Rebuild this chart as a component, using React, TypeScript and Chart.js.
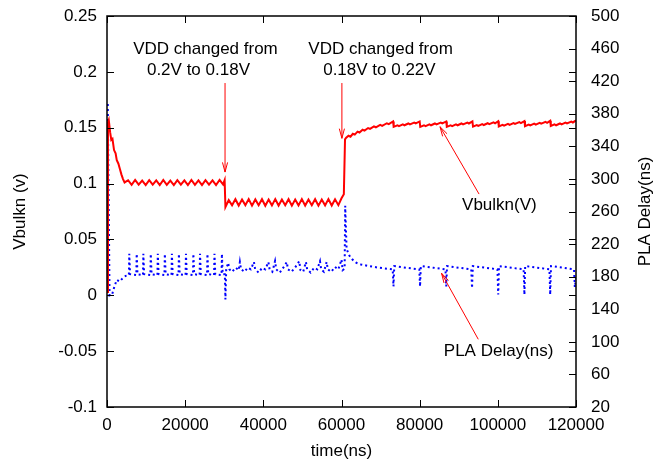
import React, { useEffect, useRef } from "react";
import { Chart, registerables } from "chart.js";

Chart.register(...registerables);

// Vbulkn (V) vs time (ns) — left axis
const vbulkn: [number, number][] = [
  [0, 0.003], [250, 0.155], [450, 0.157], [800, 0.146], [1100, 0.139], [1400, 0.14], [1800, 0.13], [2200, 0.127],
  [2500, 0.121], [2900, 0.118], [3300, 0.113], [3700, 0.108], [4100, 0.104], [4500, 0.101],
  [5400, 0.103], [6300, 0.0988], [7200, 0.1032], [8100, 0.099], [9000, 0.1027], [9900, 0.0986], [10800, 0.1031],
  [11700, 0.0991], [12600, 0.1029], [13500, 0.0987], [14400, 0.1033], [15300, 0.0989], [16200, 0.1027], [17100, 0.0986],
  [18000, 0.1031], [18900, 0.099], [19800, 0.1029], [20700, 0.0987], [21600, 0.1032], [22500, 0.0989], [23400, 0.1028],
  [24300, 0.0986], [25200, 0.1031], [26100, 0.0991], [27000, 0.1029], [27900, 0.0987], [28800, 0.1033], [29700, 0.0992],
  [30100, 0.103], [30300, 0.079],
  [31150, 0.0852], [32000, 0.0806], [32850, 0.086], [33700, 0.0803], [34550, 0.0857], [35400, 0.0807], [36250, 0.0861],
  [37100, 0.0802], [37950, 0.0858], [38800, 0.0806], [39650, 0.086], [40500, 0.0801], [41350, 0.0857], [42200, 0.0805],
  [43050, 0.0861], [43900, 0.0803], [44750, 0.0858], [45600, 0.0806], [46450, 0.086], [47300, 0.0802], [48150, 0.0857],
  [49000, 0.0805], [49850, 0.0861], [50700, 0.0803], [51550, 0.0858], [52400, 0.0806], [53250, 0.086], [54100, 0.0802],
  [54950, 0.0857], [55800, 0.0805], [56650, 0.0861], [57500, 0.0803], [58350, 0.0859], [59200, 0.0807], [60000, 0.0868],
  [60600, 0.0905], [60900, 0.1395],
  [61200, 0.141], [61800, 0.1428], [62300, 0.142], [62900, 0.1446], [63400, 0.1438], [64100, 0.1465], [64600, 0.1457],
  [65400, 0.1482], [65900, 0.1474], [66800, 0.1497], [67300, 0.1489], [68300, 0.1512], [68800, 0.1504], [69900, 0.1525],
  [70400, 0.1517], [71600, 0.154], [72100, 0.1532], [73200, 0.1556],
  [73350, 0.1508], [74300, 0.1522], [74700, 0.1514], [75700, 0.153], [76100, 0.1522], [77100, 0.1538], [77500, 0.153],
  [78600, 0.1546], [79000, 0.1538], [80000, 0.1556],
  [80150, 0.1508], [81100, 0.1522], [81500, 0.1514], [82500, 0.153], [82900, 0.1522], [83900, 0.1538], [84300, 0.153],
  [85400, 0.1546], [85800, 0.1538], [86800, 0.1556],
  [86950, 0.1508], [87900, 0.1522], [88300, 0.1514], [89300, 0.153], [89700, 0.1522], [90700, 0.1538], [91100, 0.153],
  [92200, 0.1546], [92600, 0.1538], [93500, 0.1557],
  [93650, 0.151], [94600, 0.1524], [95000, 0.1516], [96000, 0.1532], [96400, 0.1524], [97400, 0.154], [97800, 0.1532],
  [98900, 0.1548], [99300, 0.154], [100100, 0.1558],
  [100250, 0.1512], [101200, 0.1526], [101600, 0.1518], [102600, 0.1534], [103000, 0.1526], [104000, 0.1542],
  [104400, 0.1534], [105500, 0.155], [105900, 0.1542], [106800, 0.156],
  [106950, 0.1514], [107900, 0.1528], [108300, 0.152], [109300, 0.1536], [109700, 0.1528], [110700, 0.1544],
  [111100, 0.1536], [112200, 0.1552], [112600, 0.1544], [113400, 0.1562],
  [113550, 0.1516], [114500, 0.153], [114900, 0.1522], [115900, 0.1538], [116300, 0.153], [117300, 0.1546],
  [117700, 0.1538], [118800, 0.1555], [119200, 0.1547], [120000, 0.1565],
];

// PLA Delay (ns) vs time (ns) — right axis
const plaDelay: [number, number][] = [
  [200, 392], [650, 157], [1300, 158], [1900, 168], [2500, 176], [3200, 174], [4000, 178], [4800, 181],
  [5600, 182], [5700, 208], [5900, 183], [7500, 182], [7600, 208], [7800, 183], [9200, 182], [9300, 208], [9500, 183],
  [11100, 182], [11200, 208], [11400, 183], [12900, 182], [13000, 208], [13200, 183], [14700, 182], [14800, 208],
  [15000, 183], [16500, 182], [16600, 208], [16800, 183], [18300, 182], [18400, 208], [18600, 183], [20100, 182],
  [20200, 208], [20400, 183], [22000, 182], [22100, 208], [22300, 183], [23700, 182], [23800, 208], [24000, 183],
  [25600, 182], [25700, 208], [25900, 183], [27400, 182], [27500, 208], [27700, 183], [29300, 182], [29400, 208],
  [29600, 183],
  [30150, 183], [30300, 152], [30500, 189], [31000, 197], [31300, 189], [32000, 186], [32900, 191], [33700, 188],
  [34000, 198], [34300, 189], [35200, 186], [36000, 191], [36800, 189], [37600, 198], [37900, 189], [38800, 185],
  [39700, 191], [40500, 189], [41300, 198], [41600, 189], [42300, 186], [43000, 199], [43300, 189], [44200, 185],
  [45100, 191], [46000, 198], [46300, 189], [47200, 186], [48100, 191], [49200, 199], [49500, 188], [50200, 186],
  [50900, 198], [51200, 189], [52100, 185], [53000, 191], [53800, 189], [54500, 199], [54800, 189], [55500, 186],
  [56200, 198], [56500, 189], [57400, 186], [58300, 192], [59200, 189], [60000, 201], [60300, 188], [60800, 190],
  [60950, 267], [61300, 214], [62000, 206], [62800, 201], [63800, 197], [65000, 195], [67000, 193], [69500, 191],
  [73100, 189], [73300, 168], [73500, 193], [76500, 191], [79900, 189], [80100, 168], [80300, 193], [83500, 191],
  [86600, 189], [86800, 168], [87000, 193], [90000, 191], [93200, 189], [93400, 166], [93600, 193], [96800, 191],
  [99900, 189], [100100, 158], [100300, 193], [103500, 191], [106600, 189], [106800, 158], [107000, 193],
  [110100, 191], [113200, 189], [113400, 158], [113600, 193], [116700, 191], [119500, 189], [119700, 167],
  [120000, 178],
];

const xRange = [0, 120000];
const xStep = 20000;
const leftRange = [-0.1, 0.25];
const leftStep = 0.05;
const rightRange = [20, 500];
const rightStep = 40;

// Labels anchored in data coordinates (time, Vbulkn)
const labelTexts = ["VDD changed from", "0.2V to 0.18V", "VDD changed from", "0.18V to 0.22V", "Vbulkn(V)", "PLA Delay(ns)"];
const labelTimes = [25200, 23400, 70000, 69700, 100400, 100200];
const labelValues = [0.2205, 0.2017, 0.2205, 0.2017, 0.0808, -0.05];

// Arrows: tail -> tip, in data coordinates (time, Vbulkn)
const arrowTailTimes = [30200, 60100, 95200, 95000];
const arrowTailValues = [0.19, 0.19, 0.0906, -0.0394];
const arrowTipTimes = [30200, 60100, 85200, 85600];
const arrowTipValues = [0.1103, 0.1405, 0.1509, 0.0197];

const FONT_FAMILY = "'Liberation Sans', Arial, Helvetica, sans-serif";
const FONT_SIZE = 17;

const framePlugin = {
  id: "frameAndNotes",
  afterDatasetsDraw(chart: any) {
    const { ctx, chartArea: a, scales } = chart;
    const L = 7;
    ctx.save();
    ctx.strokeStyle = "#000";
    ctx.lineWidth = 1;
    ctx.beginPath();
    scales.x.ticks.forEach((t: any) => {
      const px = Math.round(scales.x.getPixelForValue(t.value)) + 0.5;
      ctx.moveTo(px, a.bottom);
      ctx.lineTo(px, a.bottom - L);
      ctx.moveTo(px, a.top);
      ctx.lineTo(px, a.top + L);
    });
    scales.y.ticks.forEach((t: any) => {
      const py = Math.round(scales.y.getPixelForValue(t.value)) + 0.5;
      ctx.moveTo(a.left, py);
      ctx.lineTo(a.left + L, py);
      ctx.moveTo(a.right, py);
      ctx.lineTo(a.right - L, py);
    });
    scales.y2.ticks.forEach((t: any) => {
      const py = Math.round(scales.y2.getPixelForValue(t.value)) + 0.5;
      ctx.moveTo(a.right, py);
      ctx.lineTo(a.right - L, py);
    });
    ctx.stroke();
    ctx.lineWidth = 1.5;
    ctx.strokeRect(a.left, a.top, a.right - a.left, a.bottom - a.top);

    // arrows
    ctx.strokeStyle = "#ff0000";
    ctx.lineWidth = 1;
    for (let i = 0; i < arrowTailTimes.length; i++) {
      const x1 = scales.x.getPixelForValue(arrowTailTimes[i]);
      const y1 = scales.y.getPixelForValue(arrowTailValues[i]);
      const x2 = scales.x.getPixelForValue(arrowTipTimes[i]);
      const y2 = scales.y.getPixelForValue(arrowTipValues[i]);
      const ang = Math.atan2(y2 - y1, x2 - x1);
      const hl = 10;
      const ha = 0.26;
      ctx.beginPath();
      ctx.moveTo(x1, y1);
      ctx.lineTo(x2, y2);
      ctx.moveTo(x2 - hl * Math.cos(ang - ha), y2 - hl * Math.sin(ang - ha));
      ctx.lineTo(x2, y2);
      ctx.lineTo(x2 - hl * Math.cos(ang + ha), y2 - hl * Math.sin(ang + ha));
      ctx.stroke();
    }

    // labels
    ctx.fillStyle = "#000";
    ctx.font = `${FONT_SIZE}px ${FONT_FAMILY}`;
    ctx.textAlign = "center";
    ctx.textBaseline = "middle";
    for (let i = 0; i < labelTexts.length; i++) {
      ctx.fillText(
        labelTexts[i],
        scales.x.getPixelForValue(labelTimes[i]),
        scales.y.getPixelForValue(labelValues[i])
      );
    }

    // right axis title, reading bottom-to-top
    ctx.translate(645, (a.top + a.bottom) / 2);
    ctx.rotate(-Math.PI / 2);
    ctx.fillText("PLA Delay(ns)", 0, 0);
    ctx.restore();
  },
};

export default function App() {
  const ref = useRef<HTMLCanvasElement | null>(null);

  useEffect(() => {
    if (!ref.current) return;
    const font = { family: FONT_FAMILY, size: FONT_SIZE };
    const chart = new Chart(ref.current, {
      type: "line",
      data: {
        datasets: [
          {
            label: "Vbulkn(V)",
            data: vbulkn.map(([x, y]) => ({ x, y })),
            yAxisID: "y",
            borderColor: "#ff0000",
            borderWidth: 2,
            pointRadius: 0,
            tension: 0,
            fill: false,
          },
          {
            label: "PLA Delay(ns)",
            data: plaDelay.map(([x, y]) => ({ x, y })),
            yAxisID: "y2",
            borderColor: "#0000ff",
            borderWidth: 2,
            borderDash: [2, 3],
            borderCapStyle: "butt",
            pointRadius: 0,
            tension: 0,
            fill: false,
          },
        ],
      },
      options: {
        animation: false,
        responsive: false,
        layout: { padding: { top: 16, left: 0, right: 0, bottom: 0 } },
        plugins: { legend: { display: false }, tooltip: { enabled: false } },
        scales: {
          x: {
            type: "linear",
            min: xRange[0],
            max: xRange[1],
            grid: { display: false, drawTicks: false },
            border: { display: false },
            ticks: {
              stepSize: xStep,
              padding: 8,
              color: "#000",
              font,
              maxRotation: 0,
              autoSkip: false,
              callback: (v: any) => String(v),
            },
            title: { display: true, text: "time(ns)", color: "#000", font, padding: { top: 0, bottom: 2 } },
            afterFit: (s: any) => {
              s.height = 57;
              s.paddingLeft = 0;
              s.paddingRight = 0;
            },
          },
          y: {
            type: "linear",
            position: "left",
            min: leftRange[0],
            max: leftRange[1],
            grid: { display: false, drawTicks: false },
            border: { display: false },
            ticks: {
              stepSize: leftStep,
              padding: 10,
              color: "#000",
              font,
              callback: (v: any) => String(Math.round(Number(v) * 100) / 100),
            },
            title: { display: true, text: "Vbulkn (v)", color: "#000", font, padding: { top: 10, bottom: 0 } },
            afterFit: (s: any) => {
              s.width = 107;
              s.paddingTop = 0;
              s.paddingBottom = 0;
            },
          },
          y2: {
            type: "linear",
            position: "right",
            min: rightRange[0],
            max: rightRange[1],
            grid: { display: false, drawTicks: false },
            border: { display: false },
            ticks: {
              stepSize: rightStep,
              padding: 15,
              color: "#000",
              font,
              callback: (v: any) => String(v),
            },
            afterFit: (s: any) => {
              s.width = 85;
              s.paddingTop = 0;
              s.paddingBottom = 0;
            },
          },
        },
      },
      plugins: [framePlugin],
    } as any);
    return () => chart.destroy();
  }, []);

  return (
    <div style={{ position: "absolute", left: 0, top: 0, width: 661, height: 464, background: "#fff" }}>
      <canvas ref={ref} width={661} height={464} />
    </div>
  );
}
